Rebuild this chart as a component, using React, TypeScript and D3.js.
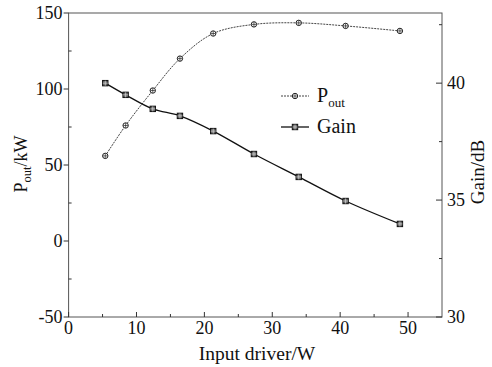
import React from "react";
import * as d3 from "d3";

const inputW = [5.4, 8.4, 12.4, 16.4, 21.3, 27.3, 33.9, 40.8, 48.8];
const poutKW = [56, 76, 99, 120, 136.5, 142.5, 143.5, 141.5, 138.2];
const gainDB = [40.0, 39.5, 38.9, 38.6, 37.95, 36.97, 35.99, 34.96, 33.98];
const xTicks = [0, 10, 20, 30, 40, 50];
const xMinor = [5, 15, 25, 35, 45];
const yTicks = [-50, 0, 50, 100, 150];
const yMinor = [-25, 25, 75, 125];
const gTicks = [30, 35, 40];
const gMinor = [32.5, 37.5, 42.5];

const W = 492, H = 367;
const L = 68.6, R = 442, T = 13, B = 317;
const FONT = "'Liberation Serif', 'Times New Roman', serif";

export default function App() {
  const x = d3.scaleLinear().domain([0, 55]).range([L, R]);
  const y = d3.scaleLinear().domain([-50, 150]).range([B, T]);
  const g = d3.scaleLinear().domain([30, 43]).range([B, T]);
  const poutLine = d3.line<number>().x((_, i) => x(inputW[i])).y((d) => y(d)).curve(d3.curveCatmullRom);
  const gainLine = d3.line<number>().x((_, i) => x(inputW[i])).y((d) => g(d)).curve(d3.curveCatmullRom);

  const circ = (cx: number, cy: number, k: string) => (
    <g key={k}>
      <circle cx={cx} cy={cy} r={2.7} fill="#fff" stroke="#222" strokeWidth={1} />
      <line x1={cx - 2.5} x2={cx + 2.5} y1={cy} y2={cy} stroke="#222" strokeWidth={0.7} />
      <line x1={cx} x2={cx} y1={cy - 2.5} y2={cy + 2.5} stroke="#222" strokeWidth={0.7} />
    </g>
  );
  const sq = (cx: number, cy: number, k: string) => (
    <g key={k}>
      <rect x={cx - 2.7} y={cy - 2.7} width={5.4} height={5.4} fill="#666" stroke="#111" strokeWidth={1} />
      <line x1={cx - 2.5} x2={cx + 2.5} y1={cy} y2={cy} stroke="#ddd" strokeWidth={0.7} />
      <line x1={cx} x2={cx} y1={cy - 2.5} y2={cy + 2.5} stroke="#ddd" strokeWidth={0.7} />
    </g>
  );

  return (
    <svg width={W} height={H} style={{ position: "absolute", left: 0, top: 0, background: "#fff" }}>
      <rect x={L} y={T} width={R - L} height={B - T} fill="none" stroke="#555" strokeWidth={1} />
      {/* left axis ticks */}
      {yTicks.map((t) => (
        <g key={"yt" + t}>
          <line x1={L - 5} x2={L} y1={y(t)} y2={y(t)} stroke="#333" />
          <text x={L - 6} y={y(t)} dy="0.35em" textAnchor="end" fontFamily={FONT} fontSize={18} fill="#111">{t}</text>
        </g>
      ))}
      {yMinor.map((t) => (
        <line key={"ym" + t} x1={L} x2={L + 3} y1={y(t)} y2={y(t)} stroke="#333" />
      ))}
      {/* bottom axis ticks */}
      {xTicks.map((t) => (
        <g key={"xt" + t}>
          <line x1={x(t)} x2={x(t)} y1={B} y2={B - 5} stroke="#333" />
          <text x={x(t)} y={B + 17} textAnchor="middle" fontFamily={FONT} fontSize={18} fill="#111">{t}</text>
        </g>
      ))}
      {xMinor.map((t) => (
        <line key={"xm" + t} x1={x(t)} x2={x(t)} y1={B} y2={B - 3} stroke="#333" />
      ))}
      {/* right axis ticks */}
      {gTicks.map((t) => (
        <g key={"gt" + t}>
          <line x1={R - 6} x2={R} y1={g(t)} y2={g(t)} stroke="#333" />
          <text x={R + 5} y={g(t)} dy="0.35em" textAnchor="start" fontFamily={FONT} fontSize={18} fill="#111">{t}</text>
        </g>
      ))}
      {gMinor.map((t) => (
        <line key={"gm" + t} x1={R - 3} x2={R} y1={g(t)} y2={g(t)} stroke="#333" />
      ))}
      {/* axis titles */}
      <text x={257} y={360} textAnchor="middle" fontFamily={FONT} fontSize={19.5} fill="#111">Input driver/W</text>
      <text transform={`translate(27,164) rotate(-90)`} textAnchor="middle" fontFamily={FONT} fontSize={18} fill="#111">
        P<tspan fontSize={12.5} dy={4}>out</tspan><tspan dy={-4}>/kW</tspan>
      </text>
      <text transform={`translate(484,172) rotate(-90)`} textAnchor="middle" fontFamily={FONT} fontSize={19} fill="#111">Gain/dB</text>

      {/* series */}
      <path d={poutLine(poutKW) || ""} fill="none" stroke="#444" strokeWidth={1} strokeDasharray="2,1" />
      <path d={gainLine(gainDB) || ""} fill="none" stroke="#111" strokeWidth={1.3} />
      {poutKW.map((v, i) => circ(x(inputW[i]), y(v), "p" + i))}
      {gainDB.map((v, i) => sq(x(inputW[i]), g(v), "g" + i))}

      {/* legend */}
      <line x1={281} x2={309} y1={96} y2={96} stroke="#444" strokeWidth={1} strokeDasharray="2,1" />
      {circ(295, 96, "lp")}
      <text x={317} y={102} fontFamily={FONT} fontSize={20} fill="#111">P<tspan fontSize={13} dy={5}>out</tspan></text>
      <line x1={281} x2={309} y1={127} y2={127} stroke="#111" strokeWidth={1.3} />
      {sq(295, 127, "lg")}
      <text x={317} y={133} fontFamily={FONT} fontSize={20} fill="#111">Gain</text>
    </svg>
  );
}
